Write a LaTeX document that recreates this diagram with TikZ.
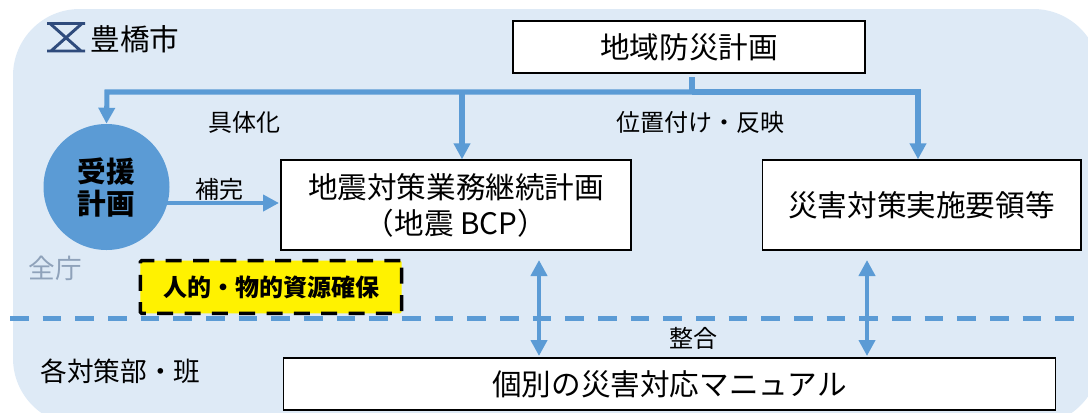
\documentclass[tikz,border=0pt]{standalone}
\usepackage{fontspec}
\setmainfont{Noto Sans CJK JP}
\usetikzlibrary{arrows.meta}

\definecolor{panelblue}{HTML}{DEEAF6}
\definecolor{linkblue}{HTML}{5B9BD5}
\definecolor{logoblue}{HTML}{2F4B7C}
\definecolor{zengray}{HTML}{8FA2BA}

\tikzset{
  planbox/.style = {draw, line width=1pt, fill=white, inner sep=0pt, font=\fontsize{22.2}{27}\selectfont, align=center},
  freetext/.style = {inner sep=0pt, font=\fontsize{18}{22}\selectfont},
  linkarrow/.style = {draw=linkblue, line width=3.8pt, -{Triangle[length=12pt,width=12pt]}},
  bothways/.style = {draw=linkblue, line width=3.2pt, {Triangle[length=12pt,width=12pt]}-{Triangle[length=12pt,width=12pt]}}
}

\begin{document}
\begin{tikzpicture}[x=0.75pt,y=-0.75pt]
\useasboundingbox (0,0) rectangle (1088,412);
\begin{scope}
\clip (0,0) rectangle (1088,412);
\fill[panelblue, rounded corners=50pt] (13,9) rectangle (1100,425);
\end{scope}

% boxes
\node[planbox, minimum width=264pt, minimum height=39pt] (plan) at (689,47) {地域防災計画};
\node[planbox, minimum width=262.5pt, minimum height=67.5pt] (bcp) at (456,205) {地震対策業務継続計画\\（地震 BCP）};
\node[planbox, minimum width=239pt, minimum height=67.5pt] (manual) at (921.5,205) {災害対策実施要領等};
\node[planbox, minimum width=579pt, minimum height=39pt] (indiv) at (669.5,384) {個別の災害対応マニュアル};
\node[circle, fill=linkblue, minimum size=94.5pt, inner sep=0pt, align=center, font=\bfseries\fontsize{21.5}{24}\selectfont] (juen) at (106.5,187) {受援\\計画};
\node[draw, line width=2.6pt, dash pattern=on 12pt off 8.5pt, fill=yellow, rounded corners=1pt, minimum width=196pt, minimum height=39.5pt, inner sep=0pt, font=\bfseries\fontsize{18}{22}\selectfont] (kakuho) at (271,287) {人的・物的資源確保};

% labels
\node[freetext, font=\fontsize{22.2}{27}\selectfont] (city) at (135,39) {豊橋市};
\node[freetext] (gutai) at (244,122) {具体化};
\node[freetext] (ichi) at (700,122) {位置付け・反映};
\node[freetext] (hokan) at (219.5,189) {補完};
\node[freetext, text=zengray, font=\fontsize{20}{24}\selectfont] (zen) at (55,268) {全庁};
\node[freetext] (seigo) at (693.5,338) {整合};
\node[freetext, font=\fontsize{20}{24}\selectfont] (kaku) at (120.5,371) {各対策部・班};

% logo
\draw[logoblue, line width=2.2pt] (47,23.5)--(85,23.5) (47,51)--(85,51) (50,23.5)--(81,51) (82,23.5)--(51,51);

% dashed border
\coordinate (bl) at (10,318.5);
\coordinate (br) at (1088,318.5);
\draw[linkblue, line width=3.6pt, dash pattern=on 14pt off 10.5pt] (bl)--(br);

% links
\coordinate (tt) at (692,92);
\coordinate (tl) at (107,92);
\coordinate (tm) at (462,92);
\coordinate (tr) at (918,92);
\coordinate (hs) at (165,203);
\coordinate (he) at (279,203);
\coordinate (a1) at (539,260);
\coordinate (a2) at (539,356);
\coordinate (b1) at (867,260);
\coordinate (b2) at (867,356);
\draw[linkblue, line width=3.8pt, shorten >=2.5pt] (tt)--(tt |- plan.south);
\draw[linkarrow] (tr) -- (tl) -- (juen.north);
\draw[linkarrow] (tm) -- (tm |- bcp.north);
\draw[linkarrow] (tt) -- (tr) -- (tr |- manual.north);
\draw[linkarrow, line width=3pt] (hs) -- (he);
\draw[bothways] (a1) -- (a2);
\draw[bothways] (b1) -- (b2);
\end{tikzpicture}
\end{document}
